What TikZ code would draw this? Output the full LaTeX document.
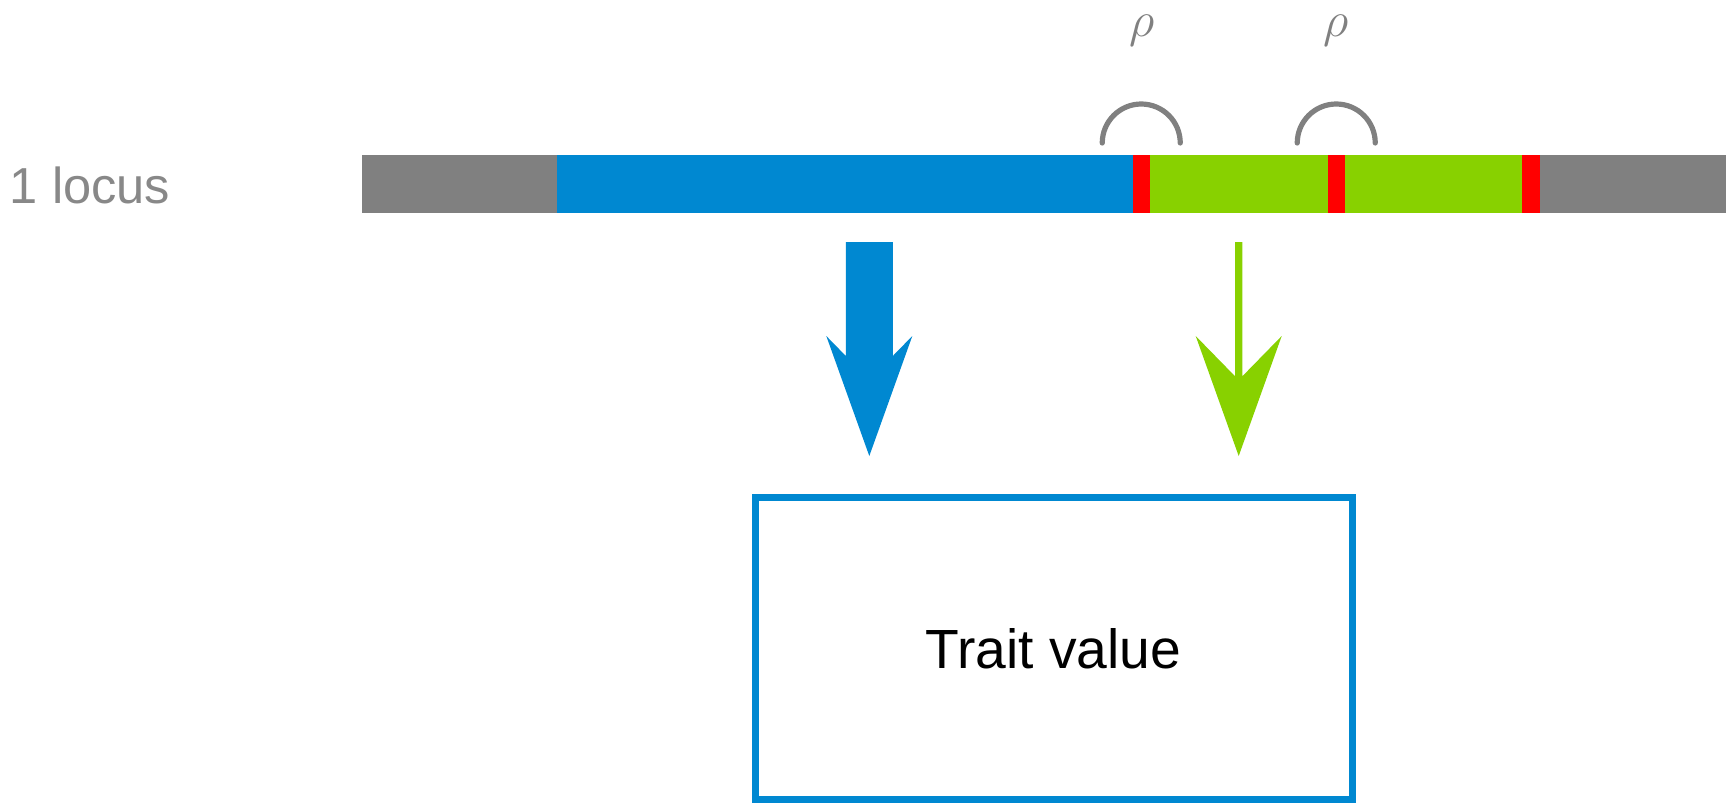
\documentclass[tikz,border=0pt]{standalone}
\usepackage{fontspec}
\setmainfont{Liberation Sans}
\usetikzlibrary{calc}

\definecolor{segblue}{RGB}{0,136,209}
\definecolor{seggreen}{RGB}{136,209,0}
\definecolor{seggray}{RGB}{128,128,128}
\definecolor{segred}{RGB}{255,0,0}
\definecolor{labelgray}{RGB}{136,136,136}

\begin{document}
\begin{tikzpicture}[x=0.5pt,y=-0.5pt,
  % one coloured stretch of the locus bar
  seg/.style={fill=#1, draw=none, inner sep=0pt, outer sep=0pt,
              minimum height=29pt, anchor=west},
  span/.style={minimum width=#1*0.5pt},
  % recombination arc above a junction
  recarc/.style={draw=seggray, line width=2.6pt, line cap=round},
  rholabel/.style={text=seggray, inner sep=0pt, anchor=base,
                   font=\fontsize{25}{30}\selectfont},
  locuslabel/.style={text=labelgray, inner sep=0pt, anchor=west,
                     font=\fontsize{25.3}{30}\selectfont},
  traitbox/.style={draw=segblue, line width=3.5pt, fill=white,
                   minimum width=298.5pt, minimum height=151pt,
                   font=\fontsize{27.6}{32}\selectfont},
  % block arrow: tip at the origin, shaft half-width #2
  pics/fatarrow/.style 2 args={code={
    \fill[#1] (-#2,-214) -- (-#2,{-120+44*(43-#2)/43}) -- (-43,-120)
      -- (0,0) -- (43,-120) -- (#2,{-120+44*(43-#2)/43}) -- (#2,-214) -- cycle;
  }}]
\useasboundingbox (0,0) rectangle (1730,803);

% label
\node[locuslabel] (locus) at (9.5,185) {1 locus};

% the locus bar
\node[seg=seggray,  span=195.5] (g1) at (362,184) {};
\node[seg=segblue,  span=576]   (b1) at (557,184) {};
\node[seg=segred,   span=17.5]  (r1) at (1132.5,184) {};
\node[seg=seggreen, span=177.5] (n1) at (1150,184) {};
\node[seg=segred,   span=17.5]  (r2) at (1327.5,184) {};
\node[seg=seggreen, span=177]   (n2) at (1345,184) {};
\node[seg=segred,   span=17.5]  (r3) at (1522,184) {};
\node[seg=seggray,  span=186]   (g2) at (1539.5,184) {};

% recombination arcs and their rates
\draw[recarc] ($(r1.north)+(-39,-12)$) arc[start angle=180, end angle=0, radius=19.5pt];
\draw[recarc] ($(r2.north)+(-39,-12)$) arc[start angle=180, end angle=0, radius=19.5pt];
\node[rholabel] (rho1) at (1142,36) {$\rho$};
\node[rholabel] (rho2) at (1336,36) {$\rho$};

% trait box
\node[traitbox] (trait) at (1053.5,648.5) {Trait value};

% effects on the trait
\coordinate (btip) at (869.3,456);
\coordinate (gtip) at (1238.7,456);
\pic at (btip) {fatarrow={segblue}{23.5}};
\pic at (gtip) {fatarrow={seggreen}{3.6}};
\end{tikzpicture}
\end{document}
